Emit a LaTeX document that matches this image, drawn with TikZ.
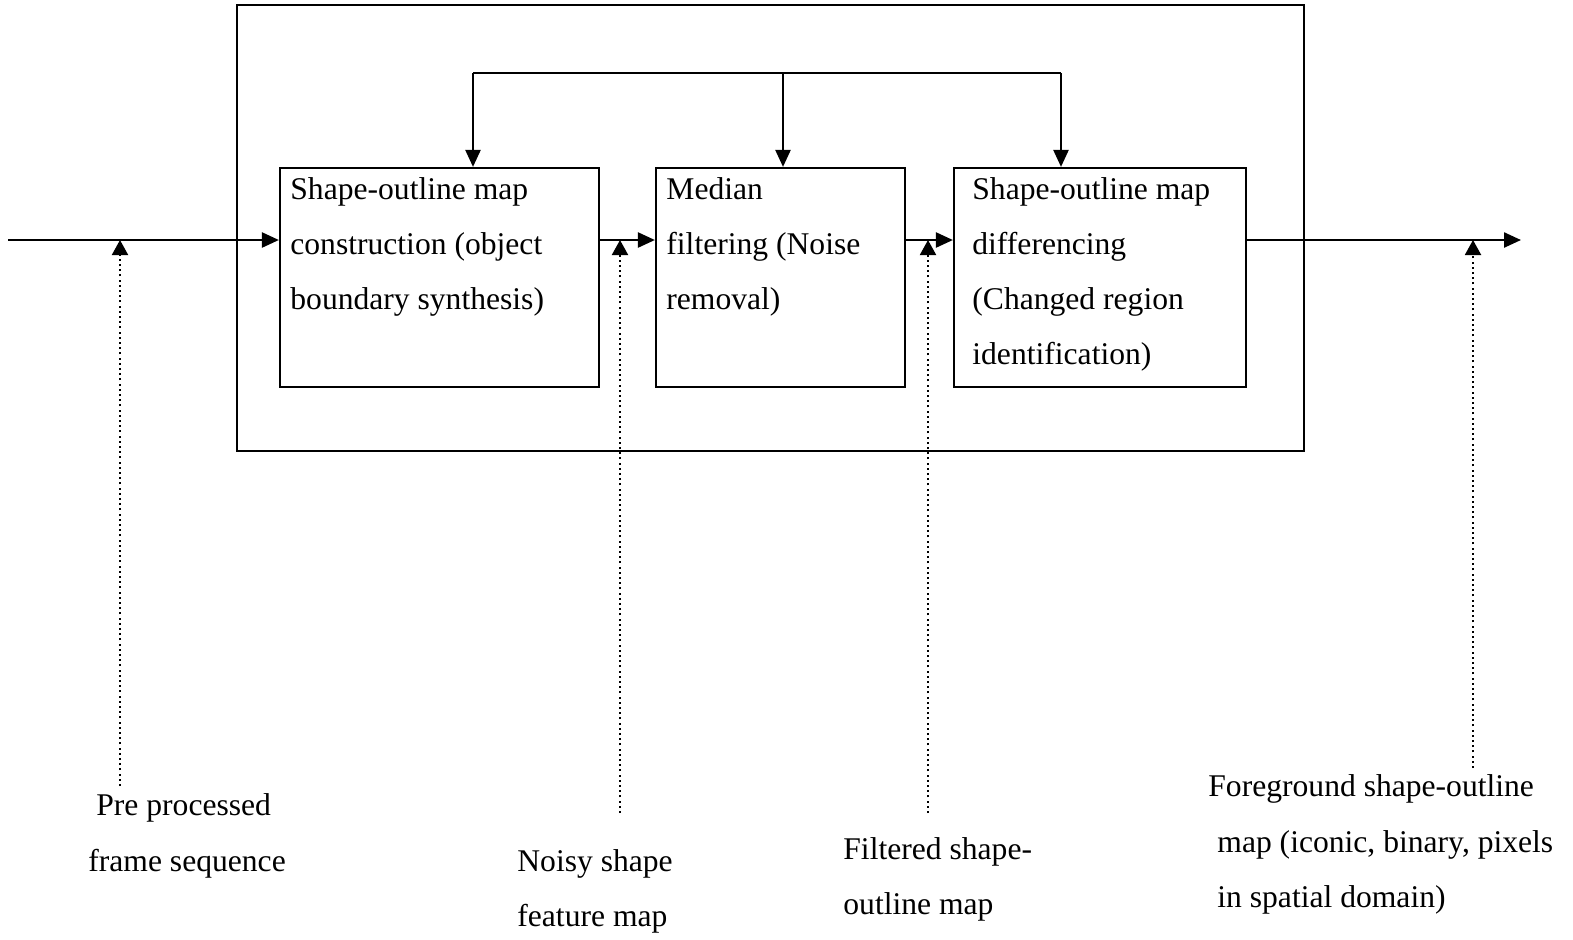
\documentclass[tikz,border=0pt]{standalone}
\usepackage{fontspec}
\setmainfont{Liberation Serif}
\usetikzlibrary{arrows.meta}
\begin{document}
\begin{tikzpicture}[x=0.5pt,y=-0.5pt,
  every node/.style={font=\fontsize{15.8pt}{27.5pt}\selectfont},
  stage/.style={draw,line width=1.1pt,inner sep=0pt},
  txt/.style={anchor=north west,inner sep=0pt,align=left,yshift=19.25pt},
  flow/.style={line width=1.2pt,-{Triangle[length=8.5pt,width=7.5pt]}},
  probe/.style={line width=1pt,dash pattern=on 1pt off 1.6pt,
    -{Triangle[length=7.5pt,width=8pt]}}]
\useasboundingbox (0,0) rectangle (1573,939);

% enclosing frame
\node[stage,minimum width=533.5pt,minimum height=223pt] (frame) at (770.5,228) {};

% processing stages
\node[stage,minimum width=159.5pt,minimum height=109.5pt] (b1) at (439.5,277.5) {};
\node[stage,minimum width=124.5pt,minimum height=109.5pt] (b2) at (780.5,277.5) {};
\node[stage,minimum width=146pt,minimum height=109.5pt] (b3) at (1100,277.5) {};

% stage captions (positions are first-line baselines)
\node[txt] (t1) at (290,199) {\strut Shape-outline map\\construction (object\\boundary synthesis)};
\node[txt] (t2) at (666,199) {\strut Median\\filtering (Noise\\removal)};
\node[txt] (t3) at (972,199) {\strut Shape-outline map\\differencing\\(Changed region\\identification)};

% main signal path
\coordinate (in) at (8,240);
\coordinate (out) at (1521,240);
\draw[flow] (in) -- (in -| b1.west);
\draw[flow] (b1.east |- in) -- (b2.west |- in);
\draw[flow] (b2.east |- in) -- (b3.west |- in);
\draw[flow] (b3.east |- in) -- (out);

% feedback distribution bus
\coordinate (busL) at (473,73);
\coordinate (busM) at (783,73);
\coordinate (busR) at (1061,73);
\draw[line width=1.2pt] (busL) -- (busR);
\draw[flow] (busL) -- (busL |- b1.north);
\draw[flow] (busM) -- (busM |- b2.north);
\draw[flow] (busR) -- (busR |- b3.north);

% signal labels
\node[txt] (l1) at (96,815) {\strut Pre processed};
\node[txt] (l1b) at (88,871) {\strut frame sequence};
\node[txt] (l2) at (517,871) {\strut Noisy shape\\feature map};
\node[txt] (l3) at (843,859) {\strut Filtered shape-\\outline map};
\node[txt] (l4) at (1208,796) {\strut Foreground shape-outline};
\node[txt] (l4b) at (1217,852) {\strut map (iconic, binary, pixels\\in spatial domain)};

% probes from labels to the signal path
\coordinate (p1) at (120,240);
\coordinate (p2) at (620,240);
\coordinate (p3) at (928,240);
\coordinate (p4) at (1473,240);
\coordinate (s1) at (120,786);
\coordinate (s2) at (620,813);
\coordinate (s3) at (928,813);
\coordinate (s4) at (1473,768);
\draw[probe] (s1) -- (p1);
\draw[probe] (s2) -- (p2);
\draw[probe] (s3) -- (p3);
\draw[probe] (s4) -- (p4);
\end{tikzpicture}
\end{document}
